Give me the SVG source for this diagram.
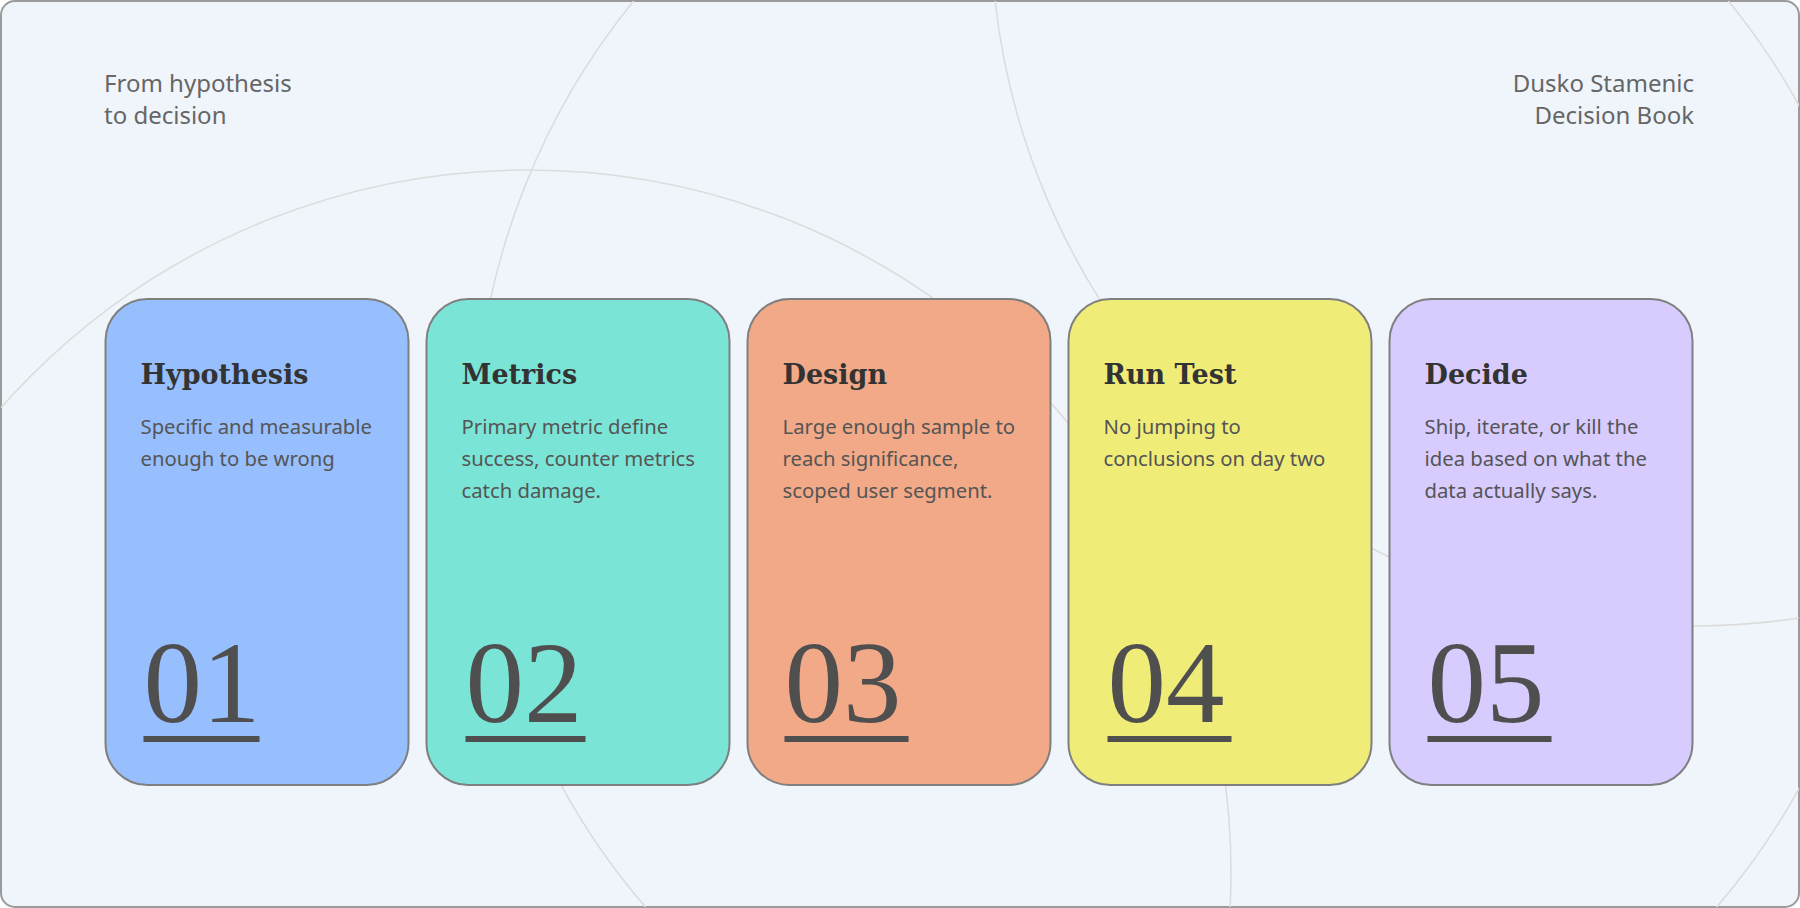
<svg xmlns="http://www.w3.org/2000/svg" width="1800" height="908" viewBox="0 0 1800 908">
<style>
.frame{fill:#f0f5fc;stroke:#9a9a9a;stroke-width:2}
.ring{fill:none;stroke:#dcdcdc;stroke-width:1.6}
.card{stroke:#7f7f7f;stroke-width:2}
.corner{font-family:"Noto Sans","DejaVu Sans",sans-serif;font-size:24px;fill:#666}
.title{font-family:"DejaVu Serif","Liberation Serif",serif;font-weight:bold;font-size:27px;fill:#333}
.desc{font-family:"Noto Sans","DejaVu Sans",sans-serif;font-size:20.3px;fill:#555}
.num{font-family:"Liberation Serif","DejaVu Serif",serif;font-size:117px;fill:#4f4f4f}
.ul{fill:#4f4f4f}
</style>
<defs>
<clipPath id="frameClip"><rect x="1" y="1" width="1798" height="906" rx="14"/></clipPath>
</defs>
<rect class="frame" x="1" y="1" width="1798" height="906" rx="14"/>
<g id="background" clip-path="url(#frameClip)">
<circle class="ring" cx="528" cy="873" r="703"/>
<circle class="ring" cx="1181" cy="447" r="706"/>
<circle class="ring" cx="1693" cy="-76" r="702"/>
</g>
<g id="header-left"><text class="corner" x="104" y="92">From hypothesis</text><text class="corner" x="104" y="124">to decision</text></g>
<g id="header-right"><text class="corner" x="1694" y="92" text-anchor="end">Dusko Stamenic</text><text class="corner" x="1694" y="124" text-anchor="end">Decision Book</text></g>
<g id="node-hypothesis">
<rect class="card" x="105.5" y="299" width="303" height="486" rx="42" fill="#97befd"/>
<text class="title" x="140.5" y="384">Hypothesis</text>
<text class="desc" x="140.5" y="434">Specific and measurable</text>
<text class="desc" x="140.5" y="466">enough to be wrong</text>
<text class="num" x="143.5" y="722">01</text>
<rect class="ul" x="143.5" y="736" width="116" height="6"/>
</g>
<g id="node-metrics">
<rect class="card" x="426.5" y="299" width="303" height="486" rx="42" fill="#7ae5d6"/>
<text class="title" x="461.5" y="384">Metrics</text>
<text class="desc" x="461.5" y="434">Primary metric define</text>
<text class="desc" x="461.5" y="466">success, counter metrics</text>
<text class="desc" x="461.5" y="498">catch damage.</text>
<text class="num" x="465.5" y="722">02</text>
<rect class="ul" x="465.5" y="736" width="120" height="6"/>
</g>
<g id="node-design">
<rect class="card" x="747.5" y="299" width="303" height="486" rx="42" fill="#f2a988"/>
<text class="title" x="782.5" y="384">Design</text>
<text class="desc" x="782.5" y="434">Large enough sample to</text>
<text class="desc" x="782.5" y="466">reach significance,</text>
<text class="desc" x="782.5" y="498">scoped user segment.</text>
<text class="num" x="784.5" y="722">03</text>
<rect class="ul" x="784.5" y="736" width="124" height="6"/>
</g>
<g id="node-run-test">
<rect class="card" x="1068.5" y="299" width="303" height="486" rx="42" fill="#f0ec78"/>
<text class="title" x="1103.5" y="384">Run Test</text>
<text class="desc" x="1103.5" y="434">No jumping to</text>
<text class="desc" x="1103.5" y="466">conclusions on day two</text>
<text class="num" x="1107.5" y="722">04</text>
<rect class="ul" x="1107.5" y="736" width="124" height="6"/>
</g>
<g id="node-decide">
<rect class="card" x="1389.5" y="299" width="303" height="486" rx="42" fill="#d8cbfe"/>
<text class="title" x="1424.5" y="384">Decide</text>
<text class="desc" x="1424.5" y="434">Ship, iterate, or kill the</text>
<text class="desc" x="1424.5" y="466">idea based on what the</text>
<text class="desc" x="1424.5" y="498">data actually says.</text>
<text class="num" x="1427.5" y="722">05</text>
<rect class="ul" x="1427.5" y="736" width="124" height="6"/>
</g>
</svg>
